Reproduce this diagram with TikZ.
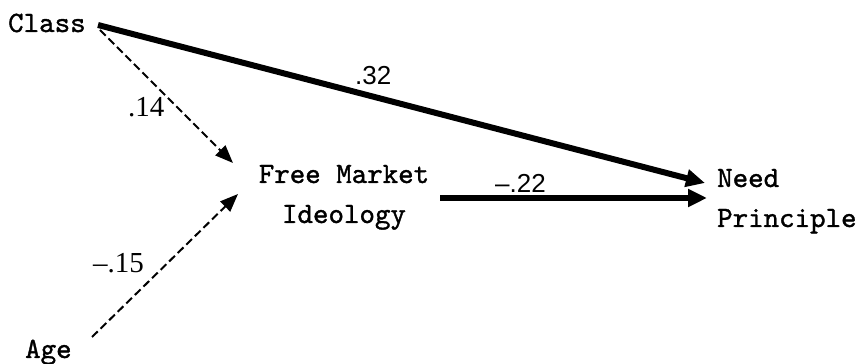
\documentclass[tikz,border=0pt]{standalone}
\usepackage{fontspec}
\setmainfont{Liberation Serif}
\newfontfamily\varfont{lmmono10-regular.otf}[FakeBold=1.2]
\newfontfamily\coeffont{Liberation Sans}
\newfontfamily\coefsfont{Liberation Serif}
\usetikzlibrary{arrows.meta,positioning}

\begin{document}
\begin{tikzpicture}[
  x=1pt, y=1pt,
  >=Latex,
  var/.style={
    font=\varfont\fontsize{29.5}{40}\selectfont,
    inner sep=0pt
  },
  coef/.style={
    font=\coeffont\fontsize{26}{30}\selectfont,
    inner sep=0pt,
    anchor=base west
  },
  coefserif/.style={
    font=\coefsfont\fontsize{29}{32}\selectfont,
    inner sep=0pt,
    anchor=base west
  },
  strong/.style={-{Triangle[length=19pt,width=17pt]}, line width=6pt},
  weak/.style={-{Triangle[length=18pt,width=14pt]}, line width=2pt,
    dash pattern=on 8pt off 4pt}
]
\useasboundingbox (0,0) rectangle (860,364);

% Variables
\node[var, anchor=base west] (class) at (8,332) {Class};
\node[var, anchor=base west] (age) at (25,6) {Age};
\node[var, anchor=base, align=center] (fmi) at (344,141) {Free Market\\Ideology};
\node[var, anchor=base west, align=left] (need) at (717,137) {Need\\Principle};

% Connector ends
\coordinate (classout) at (98,339);
\coordinate (classdash) at (100,334);
\coordinate (ageout) at (92,27);
\coordinate (fmiinA) at (233,201);
\coordinate (fmiinB) at (238,170);
\coordinate (fmiout) at (440,166);
\coordinate (needinA) at (705,181);
\coordinate (needinB) at (707,166);

% Paths
\draw[strong] (classout) -- (needinA);
\draw[strong] (fmiout) -- (needinB);
\draw[weak] (classdash) -- (fmiinA);
\draw[weak] (ageout) -- (fmiinB);

% Path coefficients
\node[coef] (c32) at (355,279) {.32};
\node[coef] (c22) at (495,171) {\textendash.22};
\node[coefserif] (c14) at (128,247) {.14};
\node[coefserif] (c15) at (93,91) {\textendash.15};

\end{tikzpicture}
\end{document}
